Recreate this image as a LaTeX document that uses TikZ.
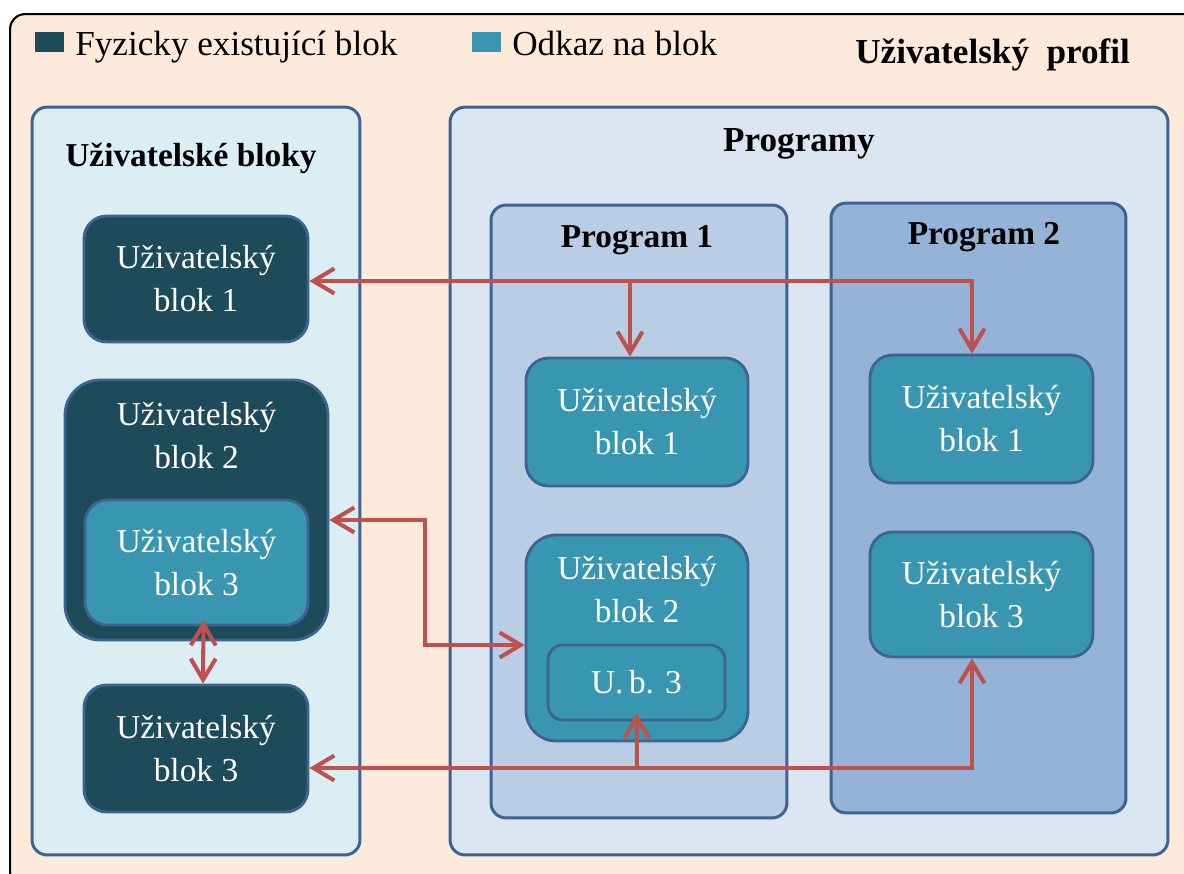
\documentclass[tikz,border=0pt]{standalone}
\usepackage{fontspec}
\setmainfont{Liberation Serif}
\usetikzlibrary{arrows.meta,calc}

\definecolor{profilebg}{RGB}{253,234,218}
\definecolor{userpanel}{RGB}{219,238,244}
\definecolor{progpanel}{RGB}{220,230,242}
\definecolor{progone}{RGB}{185,205,229}
\definecolor{progtwo}{RGB}{149,179,215}
\definecolor{physical}{RGB}{30,75,90}
\definecolor{reference}{RGB}{56,150,177}
\definecolor{edge}{RGB}{60,99,145}
\definecolor{link}{RGB}{192,80,77}

\tikzset{
  panel/.style={draw=edge, line width=1.7pt, rounded corners=0.3cm, inner sep=0pt},
  blockbase/.style={draw=edge, line width=1.6pt, inner sep=0pt, align=center,
    text=white, font=\fontsize{19}{24.5}\selectfont},
  physblock/.style={blockbase, fill=physical, rounded corners=0.45cm},
  refblock/.style={blockbase, fill=reference, rounded corners=0.45cm},
  heading/.style={font=\fontsize{19}{23}\selectfont\bfseries, anchor=base, inner sep=0pt},
  legendtext/.style={font=\fontsize{20}{24}\selectfont, anchor=base west, inner sep=0pt},
  swatch/.style={minimum width=0.58cm, minimum height=0.4cm, inner sep=0pt},
  linkline/.style={draw=link, line width=2.3pt,
    {Straight Barb[length=0.42cm,width=0.5cm]}-{Straight Barb[length=0.42cm,width=0.5cm]}},
  linkone/.style={draw=link, line width=2.3pt, -{Straight Barb[length=0.42cm,width=0.5cm]}},
}

\begin{document}
\begin{tikzpicture}[x=0.02cm, y=-0.02cm]
  \useasboundingbox (0,0) rectangle (1184,873);
  \clip (0,0) rectangle (1184,873);

  % profile frame (runs past the right and bottom edges)
  \node[draw=black, line width=1.2pt, fill=profilebg, rounded corners=0.3cm,
        minimum width=23.8cm, minimum height=17.48cm, inner sep=0pt] (profile) at (605,451) {};

  % legend
  \node[swatch, fill=physical] (swphys) at (49.5,42) {};
  \node[legendtext] (lgphys) at (75,55) {Fyzicky existující blok};
  \node[swatch, fill=reference] (swref) at (486.5,42) {};
  \node[legendtext] (lgref) at (512,55) {Odkaz na blok};
  \node[font=\fontsize{20}{24}\selectfont\bfseries, anchor=base west, inner sep=0pt]
    (proftitle) at (855,63) {Uživatelský\hspace{0.5em}profil};

  % panels
  \node[panel, fill=userpanel, minimum width=6.56cm, minimum height=14.96cm] (users) at (196,481) {};
  \node[heading] (userstitle) at (191,166) {Uživatelské bloky};

  \node[panel, fill=progpanel, minimum width=14.36cm, minimum height=14.96cm] (programs) at (809,481) {};
  \node[heading, font=\fontsize{20}{24}\selectfont\bfseries] (progtitle) at (799,151) {Programy};

  \node[panel, fill=progone, minimum width=5.92cm, minimum height=12.26cm] (prog1) at (639,511.5) {};
  \node[heading] (prog1title) at (637,247) {Program 1};

  \node[panel, fill=progtwo, minimum width=5.9cm, minimum height=12.2cm] (prog2) at (978.5,508) {};
  \node[heading] (prog2title) at (984,244) {Program 2};

  % user blocks
  \node[physblock, minimum width=4.48cm, minimum height=2.52cm] (ub1) at (196,279) {Uživatelský\\blok 1};
  \node[physblock, rounded corners=0.7cm, minimum width=5.26cm, minimum height=5.2cm] (ub2) at (196.5,510) {};
  \node[blockbase, draw=none, fill=none] (ub2text) at (196.5,436) {Uživatelský\\blok 2};
  \node[refblock, minimum width=4.46cm, minimum height=2.5cm] (ub3in) at (196.5,562.5) {Uživatelský\\blok 3};
  \node[physblock, minimum width=4.48cm, minimum height=2.54cm] (ub3) at (196,748.5) {Uživatelský\\blok 3};

  % program 1 blocks
  \node[refblock, minimum width=4.44cm, minimum height=2.56cm] (p1b1) at (637,422) {Uživatelský\\blok 1};
  \node[refblock, rounded corners=0.6cm, minimum width=4.44cm, minimum height=4.12cm] (p1b2) at (637,638) {};
  \node[blockbase, draw=none, fill=none] (p1b2text) at (637,590) {Uživatelský\\blok 2};
  \node[refblock, rounded corners=0.3cm, minimum width=3.54cm, minimum height=1.5cm] (ubsm) at (636.5,682.5) {U.\,b. 3};

  % program 2 blocks
  \node[refblock, minimum width=4.46cm, minimum height=2.56cm] (p2b1) at (981.5,419) {Uživatelský\\blok 1};
  \node[refblock, minimum width=4.46cm, minimum height=2.5cm] (p2b3) at (981.5,594.5) {Uživatelský\\blok 3};

  % links for block 1
  \coordinate (topcorner) at (972,281);
  \coordinate (topbranch) at (630,281);
  \draw[linkline] (topcorner -| ub1.east) -- (topcorner) -- (topcorner |- p2b1.north);
  \draw[linkone] (topbranch) -- (topbranch |- p1b1.north);

  % links for block 2
  \coordinate (midupper) at (425,520);
  \coordinate (midlower) at (425,645);
  \draw[linkline] (midupper -| ub2.east) -- (midupper) -- (midlower) -- (midlower -| p1b2.west);

  % nested block 3 to its original
  \draw[linkline] ($(ub3in.south)+(7,-6)$) -- ($(ub3.north)+(7,0)$);

  % links for block 3
  \coordinate (botcorner) at (972,768);
  \coordinate (botbranch) at (637,768);
  \draw[linkline] (botcorner -| ub3.east) -- (botcorner) -- (botcorner |- p2b3.south);
  \draw[linkone] (botbranch) -- ($(ubsm.south)+(0,-8)$);
\end{tikzpicture}
\end{document}
